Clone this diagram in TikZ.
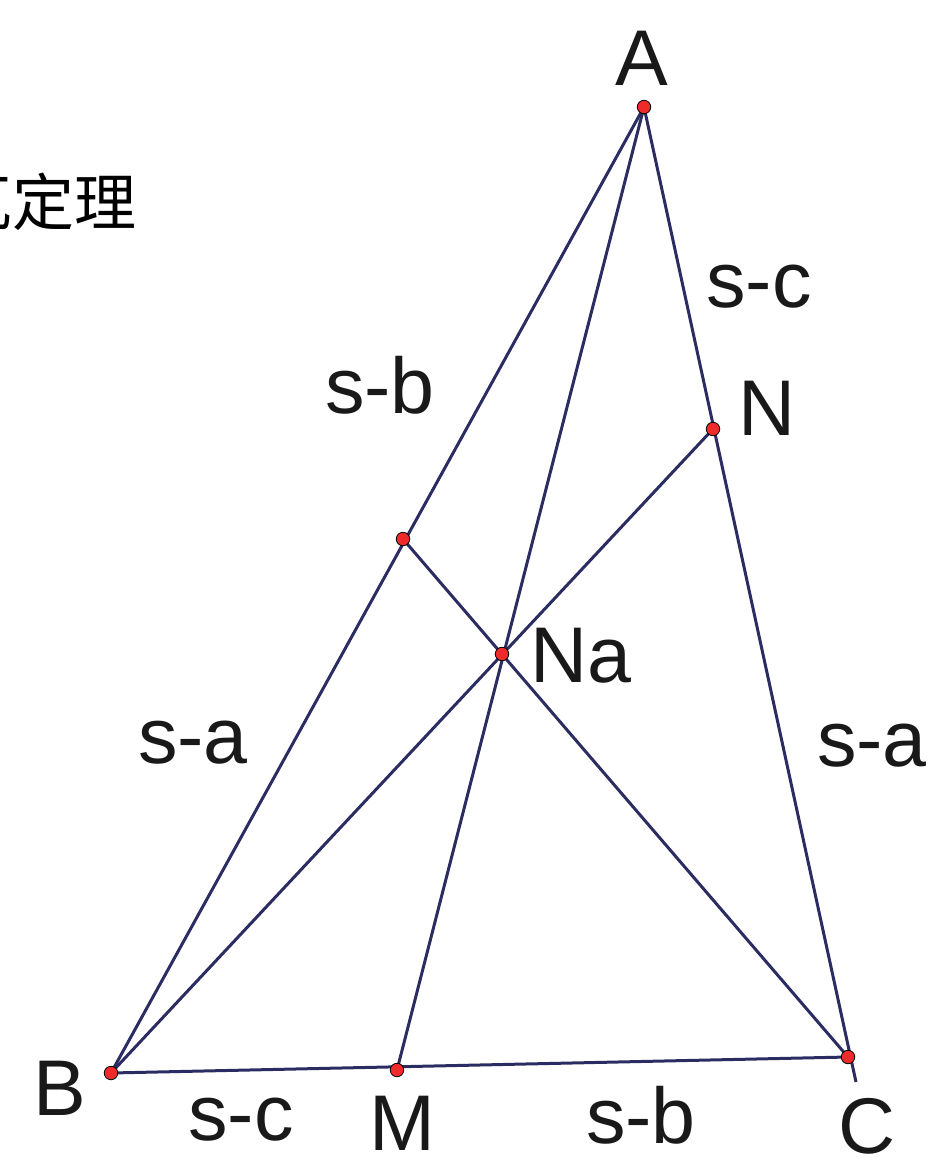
\documentclass[tikz,border=0pt]{standalone}
\usepackage{fontspec}
\setmainfont{Liberation Sans}
\newfontfamily\cjk{Noto Sans CJK SC}
\definecolor{navy}{HTML}{2B2D62}
\definecolor{dotred}{HTML}{EE2A2A}
\tikzset{
  seg/.style={draw=navy, line width=3pt},
  pt/.style={circle, fill=dotred, draw=black, line width=0.8pt, minimum size=13.5pt, inner sep=0pt},
  lbl/.style={anchor=base, inner sep=0pt, text depth=0pt, font=\fontsize{79}{79}\selectfont, text=black!90},
}
\begin{document}
\begin{tikzpicture}[x=1pt, y=-1pt]
\useasboundingbox (0,0) rectangle (929,1163);
\clip (0,0) rectangle (929,1163);
% points
\coordinate (A) at (644,107);
\coordinate (B) at (111,1073);
\coordinate (C) at (848,1057);
\coordinate (Cx) at (856,1082);
\coordinate (N) at (713,429);
\coordinate (M) at (397,1070);
\coordinate (Na) at (502,654);
\coordinate (P) at (403,539);
% segments
\draw[seg] (A) -- (B);
\draw[seg] (A) -- (Cx);
\draw[seg] (B) -- (C);
\draw[seg] (A) -- (M);
\draw[seg] (B) -- (N);
\draw[seg] (P) -- (C);
% dots
\foreach \p in {A,B,C,N,M,Na,P} \node[pt] (d\p) at (\p) {};
% labels
\node[lbl] (lA) at (642,85) {A};
\node[lbl] (lN) at (767,435) {N};
\node[lbl] (lNa) at (581,682) {Na};
\node[lbl] (lB) at (60,1115) {B};
\node[lbl] (lM) at (402,1150) {M};
\node[lbl] (lC) at (867,1153) {C};
\node[lbl] (sc1) at (759,307) {s-c};
\node[lbl] (sb1) at (380,413) {s-b};
\node[lbl] (sa1) at (193,763) {s-a};
\node[lbl] (sa2) at (872,766) {s-a};
\node[lbl] (sc2) at (241,1140) {s-c};
\node[lbl] (sb2) at (641,1143) {s-b};
% title (cut off at left)
\node[anchor=base east, inner sep=0pt, font=\cjk\fontsize{62}{62}\selectfont] (title) at (137,225) {塞瓦定理};
\end{tikzpicture}
\end{document}
